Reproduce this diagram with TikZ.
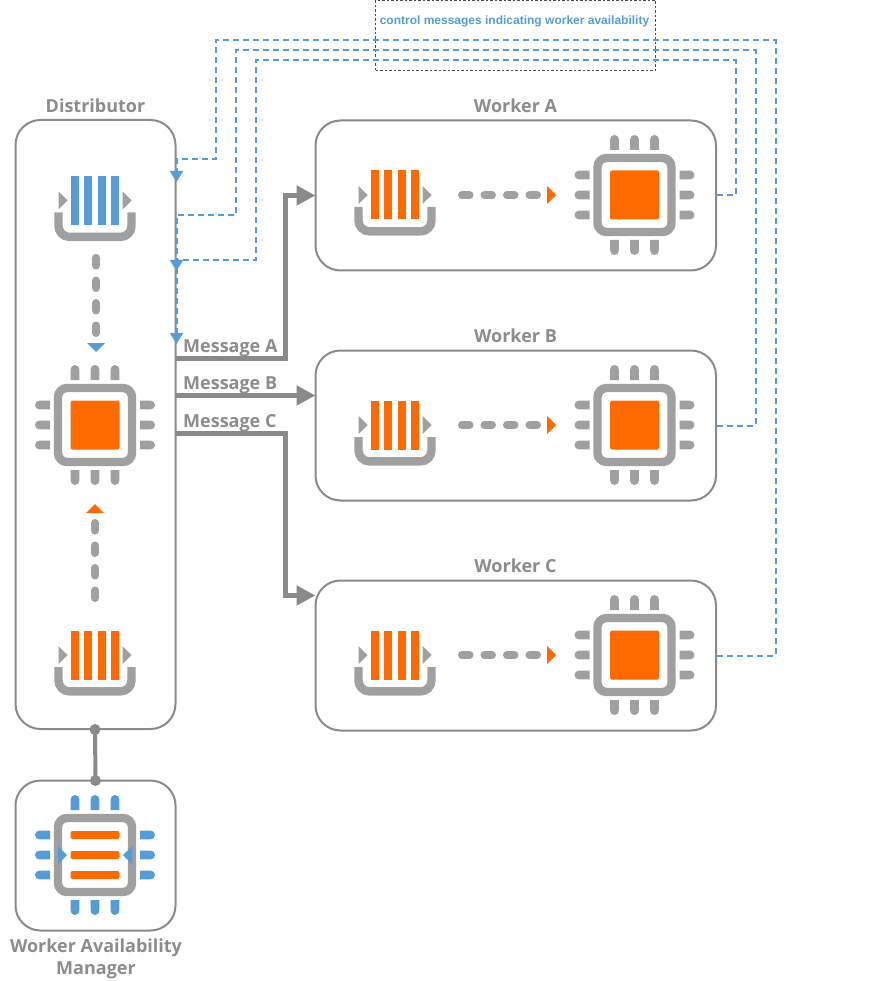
\documentclass[tikz,border=0pt]{standalone}
\usepackage{fontspec}
\setmainfont{Liberation Sans}
\newfontfamily\titlefont{Open Sans}
\usetikzlibrary{arrows.meta}
\definecolor{qblue}{HTML}{569CD6}
\definecolor{qorange}{HTML}{FF6A00}
\definecolor{iconGrey}{HTML}{A0A0A0}
\definecolor{lineGrey}{HTML}{8A8A8A}
\definecolor{txtGrey}{HTML}{8C8C8C}
\tikzset{
  box/.style={draw=lineGrey,line width=2pt,rounded corners=25pt,fill=white,minimum width=160pt,inner sep=0pt},
  title/.style={text=txtGrey,font=\titlefont\bfseries\fontsize{18}{22}\selectfont,inner sep=0pt,align=center},
  msg/.style={line width=5pt,draw=lineGrey,-{Triangle[length=19pt,width=19pt]}},
  msgtext/.style={text=txtGrey,font=\titlefont\bfseries\fontsize{18}{22}\selectfont,inner sep=0pt,anchor=base west},
  ctrl/.style={draw=qblue,line width=2pt,dash pattern=on 6pt off 4pt},
  ctrltip/.style={ctrl,-{Triangle[length=11pt,width=13pt]}},
  dots/.style={draw=iconGrey,line width=8pt,line cap=round,dash pattern=on 7.5pt off 15pt},
}
\newcommand{\pinset}[1]{%
  \foreach \k in {-20,0,20}{
    \fill[#1] (\k-4.4,-45) -- (\k-4.4,-55.6) arc[start angle=180,end angle=0,radius=4.4pt] -- (\k+4.4,-45) -- cycle;
    \fill[#1] (\k-4.4,45) -- (\k-4.4,55.6) arc[start angle=180,end angle=360,radius=4.4pt] -- (\k+4.4,45) -- cycle;
    \fill[#1] (-45,\k-4.4) -- (-55.6,\k-4.4) arc[start angle=90,end angle=270,radius=4.4pt] -- (-45,\k+4.4) -- cycle;
    \fill[#1] (45,\k-4.4) -- (55.6,\k-4.4) arc[start angle=90,end angle=-90,radius=4.4pt] -- (45,\k+4.4) -- cycle;
  }
  \draw[iconGrey,line width=8.4pt,rounded corners=9pt,fill=white] (-37,-37) rectangle (37,37);
}
\newcommand{\chipicon}[2]{%
  \begin{scope}[shift={(#1,#2)}]
    \pinset{iconGrey}
    \fill[qorange,rounded corners=1.5pt] (-24.5,-24.5) rectangle (24.5,24.5);
  \end{scope}}
\newcommand{\queueicon}[3]{%
  \begin{scope}[shift={(#1,#2)}]
    \foreach \k in {-20,-6.7,6.7,20}{\fill[#3] (\k-4.1,-24.5) rectangle (\k+4.1,24.5);}
    \fill[iconGrey] (-36.5,-9) -- (-27.5,0) -- (-36.5,9) -- cycle;
    \fill[iconGrey] (27.5,-9) -- (36.5,0) -- (27.5,9) -- cycle;
    \draw[iconGrey,line width=8.4pt,rounded corners=11pt] (-36.5,12) -- (-36.5,36.4) -- (36.5,36.4) -- (36.5,12);
  \end{scope}}
\begin{document}
\begin{tikzpicture}[x=1pt,y=-1pt]
\useasboundingbox (0,0) rectangle (892,981);
% boxes
\node[box,minimum height=609pt] (dist) at (95.5,424.5) {};
\node[box,minimum width=400.5pt,minimum height=150pt] (wa) at (515.75,195.5) {};
\node[box,minimum width=400.5pt,minimum height=150pt] (wb) at (515.75,425.5) {};
\node[box,minimum width=400.5pt,minimum height=150pt] (wc) at (515.75,655.5) {};
\node[box,minimum height=150pt] (wam) at (95.5,855.5) {};
% titles
\node[title] (tdist) at (95.5,106) {Distributor};
\node[title] (ta) at (515.5,106) {Worker A};
\node[title] (tb) at (515.5,336) {Worker B};
\node[title] (tc) at (515.5,566) {Worker C};
\node[title] (twam) at (96,958.5) {Worker Availability\\Manager};
% note
\node[draw=black!70,line width=.8pt,dash pattern=on 2.5pt off 2pt,minimum width=280pt,minimum height=70pt,inner sep=0pt] (note) at (515.5,35.5) {};
\node[text=qblue,font=\bfseries\fontsize{12}{14}\selectfont,inner sep=0pt] (notetext) at (514.5,21) {control messages indicating worker availability};
% control lines
\coordinate (ca) at (176.5,344);
\coordinate (cb) at (176.5,271);
\coordinate (cc) at (176.5,182);
\draw[ctrltip] (wa.east) -- (735.5,195.5) -- (735.5,60.5) -- (255.5,60.5) -- (255.5,260.5) -- (176.5,260.5) -- (ca);
\draw[ctrltip] (wb.east) -- (755.5,425.5) -- (755.5,50.5) -- (235.5,50.5) -- (235.5,215.5) -- (176.5,215.5) -- (cb);
\draw[ctrltip] (wc.east) -- (775.5,655.5) -- (775.5,40.5) -- (215.5,40.5) -- (215.5,159.5) -- (176.5,159.5) -- (cc);
% messages
\coordinate (ma) at (175.5,358);
\coordinate (mb) at (175.5,395.5);
\coordinate (mc) at (175.5,433);
\coordinate (wain) at (315.5,195.5);
\coordinate (wbin) at (315.5,395.5);
\coordinate (wcin) at (315.5,595.5);
\draw[msg] (ma) -- (285,358) -- (285,195.5) -- (wain);
\draw[msg] (mb) -- (wbin);
\draw[msg] (mc) -- (285,433) -- (285,595.5) -- (wcin);
\node[msgtext] (la) at (183,352) {Message A};
\node[msgtext] (lb) at (183,389) {Message B};
\node[msgtext] (lc) at (183,427) {Message C};
% link to manager
\coordinate (linktop) at (95,729.5);
\coordinate (linkbot) at (95.5,780.5);
\draw[lineGrey,line width=4pt] (linktop) -- (linkbot);
\fill[lineGrey] (linktop) circle[radius=5.5pt] (linkbot) circle[radius=5.5pt];
% distributor icons
\queueicon{95}{200.5}{qblue}
\chipicon{95}{425}
\queueicon{95}{655}{qorange}
\draw[dots] (96,258) -- (96,340);
\fill[qblue] (87,343) -- (105,343) -- (96,352) -- cycle;
\draw[dots] (95,523) -- (95,605);
\fill[qorange] (86,513) -- (104,513) -- (95,504) -- cycle;
% workers
\foreach \y in {195,425,655}{
  \queueicon{395}{\y}{qorange}
  \chipicon{634.5}{\y}
  \draw[dots] (462,\y) -- (544,\y);
  \fill[qorange] (547,\y-9) -- (556,\y) -- (547,\y+9) -- cycle;
}
% manager chip
\begin{scope}[shift={(95,855)}]
  \pinset{qblue}
  \foreach \k in {-20,0,20}{\fill[qorange,rounded corners=2pt] (-24.5,\k-4) rectangle (24.5,\k+4);}
  \fill[qblue] (-37,-9) -- (-28,0) -- (-37,9) -- cycle;
  \fill[qblue] (37,-9) -- (28,0) -- (37,9) -- cycle;
\end{scope}
\end{tikzpicture}
\end{document}
